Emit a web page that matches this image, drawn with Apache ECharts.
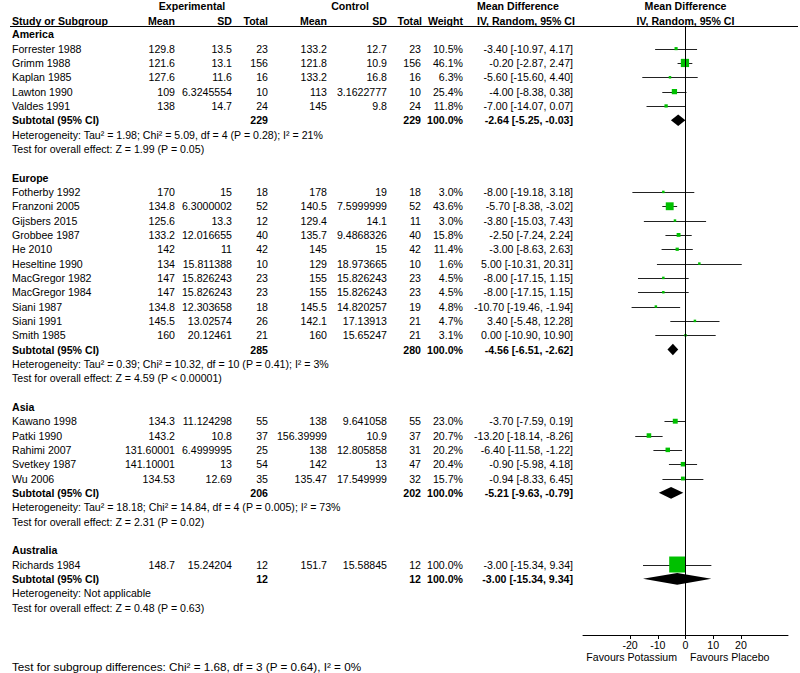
<!DOCTYPE html>
<html><head><meta charset="utf-8">
<script src="https://cdn.jsdelivr.net/npm/echarts@6/dist/echarts.min.js"></script>
<style>html,body{margin:0;padding:0;background:#fff}#c{width:800px;height:673px}</style>
</head><body><div id="c"></div>
<script>
// ---------------- DATA ----------------
const groupNames = ['America', 'Europe', 'Asia', 'Australia'];
const studyNames = ['Forrester 1988','Grimm 1988','Kaplan 1985','Lawton 1990','Valdes 1991',
  'Fotherby 1992','Franzoni 2005','Gijsbers 2015','Grobbee 1987','He 2010','Heseltine 1990','MacGregor 1982','MacGregor 1984','Siani 1987','Siani 1991','Smith 1985',
  'Kawano 1998','Patki 1990','Rahimi 2007','Svetkey 1987','Wu 2006',
  'Richards 1984'];
const studyGroup = [0,0,0,0,0, 1,1,1,1,1,1,1,1,1,1,1, 2,2,2,2,2, 3];
const expMean = [129.8,121.6,127.6,109,138, 170,134.8,125.6,133.2,142,134,147,147,134.8,145.5,160, 134.3,143.2,131.60001,141.10001,134.53, 148.7];
const expSD = [13.5,13.1,11.6,6.3245554,14.7, 15,6.3000002,13.3,12.016655,11,15.811388,15.826243,15.826243,12.303658,13.02574,20.12461, 11.124298,10.8,6.4999995,13,12.69, 15.24204];
const expTotal = [23,156,16,10,24, 18,52,12,40,42,10,23,23,18,26,21, 55,37,25,54,35, 12];
const ctlMean = [133.2,121.8,133.2,113,145, 178,140.5,129.4,135.7,145,129,155,155,145.5,142.1,160, 138,156.39999,138,142,135.47, 151.7];
const ctlSD = [12.7,10.9,16.8,3.1622777,9.8, 19,7.5999999,14.1,9.4868326,15,18.973665,15.826243,15.826243,14.820257,17.13913,15.65247, 9.641058,10.9,12.805858,13,17.549999, 15.58845];
const ctlTotal = [23,156,16,10,24, 18,52,11,40,42,10,23,23,19,21,21, 55,37,31,47,32, 12];
const weightPct = [10.5,46.1,6.3,25.4,11.8, 3.0,43.6,3.0,15.8,11.4,1.6,4.5,4.5,4.8,4.7,3.1, 23.0,20.7,20.2,20.4,15.7, 100.0];
const mdValue = [-3.40,-0.20,-5.60,-4.00,-7.00, -8.00,-5.70,-3.80,-2.50,-3.00,5.00,-8.00,-8.00,-10.70,3.40,0.00, -3.70,-13.20,-6.40,-0.90,-0.94, -3.00];
const mdLower = [-10.97,-2.87,-15.60,-8.38,-14.07, -19.18,-8.38,-15.03,-7.24,-8.63,-10.31,-17.15,-17.15,-19.46,-5.48,-10.90, -7.59,-18.14,-11.58,-5.98,-8.33, -15.34];
const mdUpper = [4.17,2.47,4.40,0.38,0.07, 3.18,-3.02,7.43,2.24,2.63,20.31,1.15,1.15,-1.94,12.28,10.90, 0.19,-8.26,-1.22,4.18,6.45, 9.34];
const subExpTotal = [229, 285, 206, 12];
const subCtlTotal = [229, 280, 202, 12];
const subWeight = [100.0, 100.0, 100.0, 100.0];
const subMD = [-2.64, -4.56, -5.21, -3.00];
const subLower = [-5.25, -6.51, -9.63, -15.34];
const subUpper = [-0.03, -2.62, -0.79, 9.34];
const heterogeneityText = [
  'Heterogeneity: Tau² = 1.98; Chi² = 5.09, df = 4 (P = 0.28); I² = 21%',
  'Heterogeneity: Tau² = 0.39; Chi² = 10.32, df = 10 (P = 0.41); I² = 3%',
  'Heterogeneity: Tau² = 18.18; Chi² = 14.84, df = 4 (P = 0.005); I² = 73%',
  'Heterogeneity: Not applicable'];
const overallEffectText = [
  'Test for overall effect: Z = 1.99 (P = 0.05)',
  'Test for overall effect: Z = 4.59 (P < 0.00001)',
  'Test for overall effect: Z = 2.31 (P = 0.02)',
  'Test for overall effect: Z = 0.48 (P = 0.63)'];
const subgroupDiffText = 'Test for subgroup differences: Chi² = 1.68, df = 3 (P = 0.64), I² = 0%';
const axisTickValues = [-20, -10, 0, 10, 20];
const favoursLeft = 'Favours Potassium';
const favoursRight = 'Favours Placebo';
const subtotalLabel = 'Subtotal (95% CI)';

// ---------------- LAYOUT ----------------
const W = 800, H = 673;
const ROW0 = 34.3, ROWH = 14.33;
const FOREST = {left: 583, width: 205, top: 26, bottom: 635, min: -37, max: 37};
const COL = {name: 12, eMean: 175, eSD: 232, eN: 268, cMean: 327, cSD: 387, cN: 421, w: 463, ci: 573, ciHead: 477, plot: 685.5};
const FONT = '"Liberation Sans", Arial, Helvetica, sans-serif';
const FS = 10.6;
const rowOf = y => (y - ROW0) / ROWH;

const texts = [];
function add(x, row, text, align, bold, size) { texts.push({x, row, text: String(text), align, bold: !!bold, size: size || FS}); }
const fmt2 = v => v.toFixed(2);
const ciText = (m, l, u) => fmt2(m) + ' [' + fmt2(l) + ', ' + fmt2(u) + ']';

// headers
add(192, -1.95, 'Experimental', 'center', true);
add(350, -1.95, 'Control', 'center', true);
add(COL.ciHead, -1.95, 'Mean Difference', 'left', true);
add(COL.plot, -1.95, 'Mean Difference', 'center', true);
add(COL.name, -0.95, 'Study or Subgroup', 'left', true);
add(COL.eMean, -0.95, 'Mean', 'right', true);
add(COL.eSD, -0.95, 'SD', 'right', true);
add(COL.eN, -0.95, 'Total', 'right', true);
add(COL.cMean, -0.95, 'Mean', 'right', true);
add(COL.cSD, -0.95, 'SD', 'right', true);
add(COL.cN + 1, -0.95, 'Total', 'right', true);
add(COL.w, -0.95, 'Weight', 'right', true);
add(COL.ciHead, -0.95, 'IV, Random, 95% CI', 'left', true);
add(COL.plot, -0.95, 'IV, Random, 95% CI', 'center', true);

const forest = [];
let row = 0;
groupNames.forEach((g, gi) => {
  add(COL.name, row, g, 'left', true);
  row++;
  studyNames.forEach((s, i) => {
    if (studyGroup[i] !== gi) return;
    add(COL.name, row, s, 'left');
    add(COL.eMean, row, expMean[i], 'right');
    add(COL.eSD, row, expSD[i], 'right');
    add(COL.eN, row, expTotal[i], 'right');
    add(COL.cMean, row, ctlMean[i], 'right');
    add(COL.cSD, row, ctlSD[i], 'right');
    add(COL.cN, row, ctlTotal[i], 'right');
    add(COL.w, row, weightPct[i].toFixed(1) + '%', 'right');
    add(COL.ci, row, ciText(mdValue[i], mdLower[i], mdUpper[i]), 'right');
    forest.push({kind: 'study', row, md: mdValue[i], lo: mdLower[i], hi: mdUpper[i], w: weightPct[i]});
    row++;
  });
  add(COL.name, row, subtotalLabel, 'left', true);
  add(COL.eN, row, subExpTotal[gi], 'right', true);
  add(COL.cN, row, subCtlTotal[gi], 'right', true);
  add(COL.w, row, subWeight[gi].toFixed(1) + '%', 'right', true);
  add(COL.ci, row, ciText(subMD[gi], subLower[gi], subUpper[gi]), 'right', true);
  forest.push({kind: 'diamond', row, md: subMD[gi], lo: subLower[gi], hi: subUpper[gi]});
  row++;
  add(COL.name, row, heterogeneityText[gi], 'left'); row++;
  add(COL.name, row, overallEffectText[gi], 'left'); row++;
  row++;
});
add(COL.name, rowOf(666), subgroupDiffText, 'left', false, 11.7);
add(677, rowOf(657), favoursLeft, 'right');
add(690, rowOf(657), favoursRight, 'left');

const chart = echarts.init(document.getElementById('c'), null, {renderer: 'svg', width: W, height: H});
chart.setOption({
  animation: false,
  backgroundColor: '#fff',
  grid: [
    {left: 0, top: 0, width: W, height: H},
    {left: FOREST.left, top: FOREST.top, width: FOREST.width, height: FOREST.bottom - FOREST.top}
  ],
  xAxis: [
    {gridIndex: 0, type: 'value', min: 0, max: W, show: false},
    {gridIndex: 1, type: 'value', min: FOREST.min, max: FOREST.max, position: 'bottom',
      splitLine: {show: false},
      axisLine: {show: true, onZero: false, lineStyle: {color: '#000', width: 1}},
      axisTick: {show: true, length: 4, lineStyle: {color: '#000'}, customValues: axisTickValues},
      axisLabel: {show: true, margin: 4, color: '#000', fontSize: FS, fontFamily: FONT, customValues: axisTickValues, formatter: v => String(v)}
    }
  ],
  yAxis: [
    {gridIndex: 0, type: 'value', inverse: true, min: rowOf(0), max: rowOf(H), show: false},
    {gridIndex: 1, type: 'value', inverse: true, min: rowOf(FOREST.top), max: rowOf(FOREST.bottom), show: false}
  ],
  graphic: [
    {type: 'line', shape: {x1: 10, y1: 26.5, x2: 798, y2: 26.5}, style: {stroke: '#000', lineWidth: 1.2}, silent: true}
  ],
  series: [
    {
      type: 'custom', xAxisIndex: 0, yAxisIndex: 0, clip: false, silent: true,
      data: texts.map((t, i) => [t.x, t.row, i]),
      renderItem: (params, api) => {
        const t = texts[api.value(2)];
        const p = api.coord([t.x, t.row]);
        return {type: 'text', x: p[0], y: p[1], style: {
          text: t.text, fill: '#000', align: t.align, verticalAlign: 'middle',
          font: (t.bold ? 'bold ' : '') + t.size + 'px ' + FONT}};
      }
    },
    {
      type: 'custom', xAxisIndex: 1, yAxisIndex: 1, clip: false, silent: true,
      data: forest.map((f, i) => [f.md, f.row, i]),
      renderItem: (params, api) => {
        const f = forest[api.value(2)];
        const y = api.coord([f.md, f.row])[1];
        const xm = api.coord([f.md, f.row])[0];
        const xl = api.coord([f.lo, f.row])[0];
        const xh = api.coord([f.hi, f.row])[0];
        if (f.kind === 'study') {
          const s = Math.max(2.5, 1.6 + 14.4 * f.w / 100);
          const yl = Math.round(y) + 0.5;
          return {type: 'group', children: [
            {type: 'line', shape: {x1: xl, y1: yl, x2: xh, y2: yl}, style: {stroke: '#222', lineWidth: 1}},
            {type: 'rect', shape: {x: xm - s / 2, y: y - s / 2, width: s, height: s}, style: {fill: '#00c000'}}
          ]};
        }
        const h = 5.8;
        return {type: 'polygon', shape: {points: [[xl, y], [xm, y - h], [xh, y], [xm, y + h]]}, style: {fill: '#000'}};
      },
      markLine: {silent: true, symbol: 'none', label: {show: false},
        lineStyle: {color: '#000', type: 'solid', width: 1},
        data: [{xAxis: 0}]}
    }
  ]
});
</script>
</body></html>
